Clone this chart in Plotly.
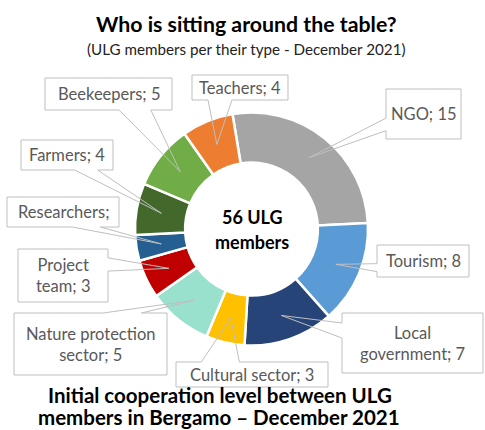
import math
import plotly.graph_objects as go

W, H = 485, 430

categories = ["NGO", "Tourism", "Local government", "Cultural sector",
              "Nature protection sector", "Project team", "Researchers",
              "Farmers", "Beekeepers", "Teachers"]
values = [15, 8, 7, 3, 5, 3, 2, 4, 5, 4]
colors = ["#A5A5A5", "#5B9BD5", "#264478", "#FFC000", "#99E1CD",
          "#C00000", "#255E91", "#43682B", "#70AD47", "#ED7D31"]
label_texts = ["NGO; 15", "Tourism; 8", "Local<br>government; 7", "Cultural sector; 3",
               "Nature protection<br>sector; 5", "Project<br>team; 3", "Researchers;",
               "Farmers; 4", "Beekeepers; 5", "Teachers; 4"]

# label box positions (pixels: x0, y0, x1, y1)
boxes = [(386, 89, 461, 139), (377, 245, 469, 277), (342, 313, 483, 373),
         (176, 362, 328, 387), (14, 313, 167, 375), (18, 249, 108, 302),
         (7, 197, 119, 227), (21, 140, 113, 170), (45, 78, 172, 110),
         (192, 75, 288, 100)]

CX, CY, R = 251.5, 229.0, 116.5
HOLE = 0.57
ROT = -9.4


def X(px):
    return px / W


def Y(py):
    return 1 - py / H


fig = go.Figure()
fig.add_trace(go.Pie(
    labels=categories, values=values, sort=False, direction="clockwise",
    rotation=ROT, hole=HOLE, textinfo="none",
    marker=dict(colors=colors, line=dict(color="white", width=2.5)),
    domain=dict(x=[X(CX - R), X(CX + R)], y=[Y(CY + R), Y(CY - R)]),
    showlegend=False, hoverinfo="label+value",
))

total = sum(values)
shapes = []
annotations = []
cum = 0
for lab, v, (x0, y0, x1, y1) in zip(label_texts, values, boxes):
    mid = ROT + (cum + v / 2) / total * 360
    cum += v
    r = 0.785 * R
    tx = CX + r * math.sin(math.radians(mid))
    ty = CY - r * math.cos(math.radians(mid))
    w, h = x1 - x0, y1 - y0
    hc, vc = (x0 + x1) / 2, (y0 + y1) / 2
    dxPos, dyPos = tx - hc, ty - vc
    dx, dy = dxPos * h, dyPos * w
    xg1, xg2 = (7, 10) if dxPos > 0 else (2, 5)
    yg1, yg2 = (7, 10) if dyPos > 0 else (2, 5)
    bx1, bx2 = x0 + w * xg1 / 12, x0 + w * xg2 / 12
    by1, by2 = y0 + h * yg1 / 12, y0 + h * yg2 / 12
    pts = [(x0, y0)]
    if abs(dy) > abs(dx) and dyPos < 0:
        pts += [(bx1, y0), (tx, ty), (bx2, y0)]
    pts.append((x1, y0))
    if abs(dy) <= abs(dx) and dxPos > 0:
        pts += [(x1, by1), (tx, ty), (x1, by2)]
    pts.append((x1, y1))
    if abs(dy) > abs(dx) and dyPos > 0:
        pts += [(bx2, y1), (tx, ty), (bx1, y1)]
    pts.append((x0, y1))
    if abs(dy) <= abs(dx) and dxPos < 0:
        pts += [(x0, by2), (tx, ty), (x0, by1)]
    path = "M " + " L ".join(f"{X(a):.5f},{Y(b):.5f}" for a, b in pts) + " Z"
    shapes.append(dict(type="path", path=path, xref="paper", yref="paper",
                       line=dict(color="#BFBFBF", width=1),
                       fillcolor="rgba(0,0,0,0)", layer="above"))
    annotations.append(dict(text=lab, x=X(hc), y=Y(vc), xref="paper", yref="paper",
                            xanchor="center", yanchor="middle", showarrow=False,
                            font=dict(family="Lato", size=16.5, color="#595959")))


def txt(s, x, y, size, color="black"):
    return dict(text=s, x=X(x), y=Y(y), xref="paper", yref="paper", showarrow=False,
                xanchor="center", yanchor="middle",
                font=dict(family="Lato", size=size, color=color))


annotations += [
    txt("<b>Who is sitting around the table?</b>", 246, 24, 21.3),
    txt("(ULG members per their type - December 2021)", 246, 49, 15.2, "#222222"),
    txt("<b>56 ULG</b>", 252, 217, 18),
    txt("<b>members</b>", 252, 242, 18),
    txt("<b>Initial cooperation level between ULG</b>", 220, 395, 20.5),
    txt("<b>members in Bergamo – December 2021</b>", 219, 417, 20.5),
]

fig.update_layout(
    width=W, height=H, margin=dict(l=0, r=0, t=0, b=0),
    paper_bgcolor="white", plot_bgcolor="white",
    shapes=shapes, annotations=annotations,
)
fig.write_html("out.html", config={"displayModeBar": False},
               post_script="document.body.style.margin='0';document.body.style.overflow='hidden';")
